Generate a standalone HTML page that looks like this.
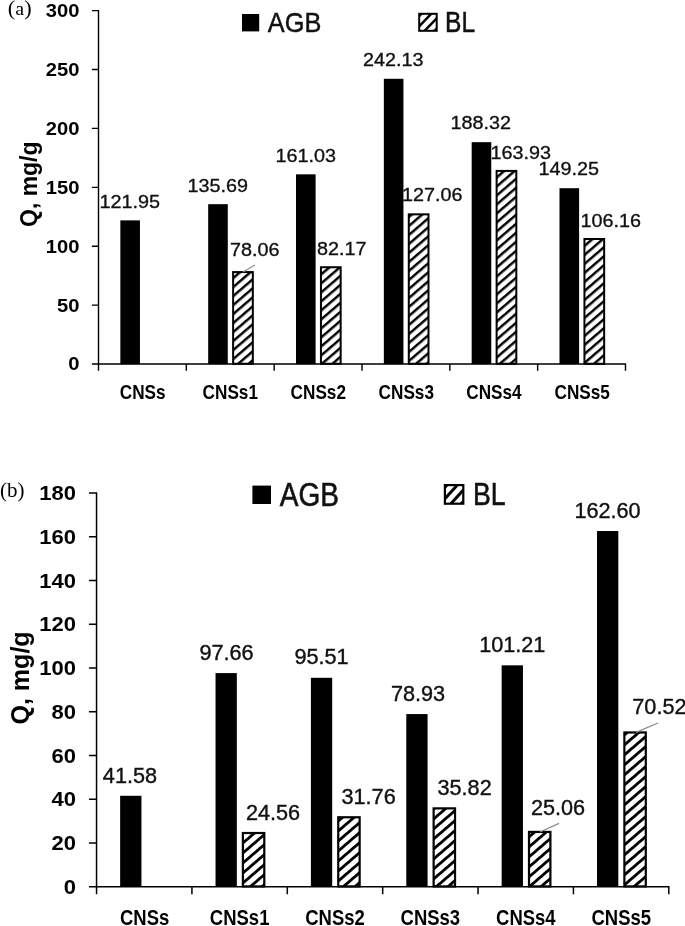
<!DOCTYPE html>
<html lang="en"><head><meta charset="utf-8"><title>Adsorption capacity charts</title>
<style>
html,body{margin:0;padding:0;background:#fff}
body{width:685px;height:926px;overflow:hidden}
svg{display:block}
text{font-size:50px;fill:#000}
text.b{font-family:'Liberation Sans', sans-serif;font-weight:bold}
text.n{font-family:'Liberation Sans', sans-serif;font-weight:normal;fill:#111;stroke:#111;stroke-width:0.9}
text.s{font-family:'Liberation Serif', serif;font-weight:normal}
</style></head><body>
<svg width="685" height="926" viewBox="0 0 685 926">
<defs>
<pattern id="ha" width="6.824" height="6.824" patternUnits="userSpaceOnUse" patternTransform="rotate(-40.70)"><rect width="6.824" height="6.824" fill="#fff"/><rect y="0" width="6.824" height="2.45" fill="#000"/></pattern>
<pattern id="hb" width="7.582" height="7.582" patternUnits="userSpaceOnUse" patternTransform="rotate(-40.70)"><rect width="7.582" height="7.582" fill="#fff"/><rect y="0" width="7.582" height="2.8" fill="#000"/></pattern>
</defs>
<rect width="685" height="926" fill="#fff"/>
<rect x="120.35" y="220.37" width="19.60" height="143.68" fill="#000"/>
<rect x="208.18" y="204.18" width="19.60" height="159.87" fill="#000"/>
<rect x="296.01" y="174.33" width="19.60" height="189.72" fill="#000"/>
<rect x="383.84" y="78.78" width="19.60" height="285.27" fill="#000"/>
<rect x="471.67" y="142.18" width="19.60" height="221.87" fill="#000"/>
<rect x="559.50" y="188.21" width="19.60" height="175.84" fill="#000"/>
<rect x="233.13" y="272.08" width="19.70" height="91.67" fill="url(#ha)" stroke="#000" stroke-width="2.0"/>
<rect x="320.96" y="267.24" width="19.70" height="96.51" fill="url(#ha)" stroke="#000" stroke-width="2.0"/>
<rect x="408.79" y="214.35" width="19.70" height="149.40" fill="url(#ha)" stroke="#000" stroke-width="2.0"/>
<rect x="496.62" y="170.91" width="19.70" height="192.84" fill="url(#ha)" stroke="#000" stroke-width="2.0"/>
<rect x="584.45" y="238.98" width="19.70" height="124.77" fill="url(#ha)" stroke="#000" stroke-width="2.0"/>
<path d="M98.50 9.90V370.65M91.90 364.05H626.18M186.33 364.05v6.60M274.16 364.05v6.60M361.99 364.05v6.60M449.82 364.05v6.60M537.65 364.05v6.60M625.48 364.05v6.60M91.90 364.05H98.50M91.90 305.14H98.50M91.90 246.23H98.50M91.90 187.33H98.50M91.90 128.42H98.50M91.90 69.51H98.50M91.90 10.60H98.50" fill="none" stroke="#000" stroke-width="1.4"/>
<text class="b" transform="matrix(0.4037 0 0 0.3634 68.20 370.47)">0</text>
<text class="b" transform="matrix(0.4037 0 0 0.3634 57.00 311.56)">50</text>
<text class="b" transform="matrix(0.4037 0 0 0.3634 45.70 252.65)">100</text>
<text class="b" transform="matrix(0.4037 0 0 0.3634 45.70 193.74)">150</text>
<text class="b" transform="matrix(0.4037 0 0 0.3634 45.70 134.83)">200</text>
<text class="b" transform="matrix(0.4037 0 0 0.3634 45.70 75.93)">250</text>
<text class="b" transform="matrix(0.4037 0 0 0.3634 45.70 17.02)">300</text>
<text class="b" transform="matrix(0.3436 0 0 0.3972 119.81 398.70)">CNSs</text>
<text class="b" transform="matrix(0.3436 0 0 0.3972 202.61 398.70)">CNSs1</text>
<text class="b" transform="matrix(0.3436 0 0 0.3972 290.61 398.70)">CNSs2</text>
<text class="b" transform="matrix(0.3436 0 0 0.3972 378.61 398.70)">CNSs3</text>
<text class="b" transform="matrix(0.3436 0 0 0.3972 466.31 398.70)">CNSs4</text>
<text class="b" transform="matrix(0.3436 0 0 0.3972 554.51 398.70)">CNSs5</text>
<text class="n" transform="matrix(0.3959 0 0 0.3718 99.52 208.41)">121.95</text>
<text class="n" transform="matrix(0.3959 0 0 0.3718 187.52 191.91)">135.69</text>
<text class="n" transform="matrix(0.3959 0 0 0.3718 275.52 161.81)">161.03</text>
<text class="n" transform="matrix(0.3959 0 0 0.3718 363.01 66.41)">242.13</text>
<text class="n" transform="matrix(0.3959 0 0 0.3718 450.52 129.41)">188.32</text>
<text class="n" transform="matrix(0.3959 0 0 0.3718 538.52 175.41)">149.25</text>
<text class="n" transform="matrix(0.3959 0 0 0.3718 230.01 256.41)">78.06</text>
<text class="n" transform="matrix(0.3959 0 0 0.3718 317.11 254.71)">82.17</text>
<text class="n" transform="matrix(0.3959 0 0 0.3718 402.02 200.71)">127.06</text>
<text class="n" transform="matrix(0.3959 0 0 0.3718 490.52 159.21)">163.93</text>
<text class="n" transform="matrix(0.3959 0 0 0.3718 580.52 226.71)">106.16</text>
<line x1="255" y1="265" x2="243" y2="272" stroke="#8c8c8c" stroke-width="1.2"/>
<rect x="242" y="14" width="17.20" height="17.40" fill="#000"/>
<clipPath id="cha"><rect x="419.20" y="13.80" width="17.50" height="17.00"/></clipPath>
<path d="M399.48 36.51L441.16 -6.65M404.57 41.42L446.25 -1.74M409.65 46.34L451.33 3.18M414.74 51.25L456.42 8.09" stroke="#000" stroke-width="2.5" fill="none" clip-path="url(#cha)"/>
<rect x="419.20" y="13.80" width="17.50" height="17.00" fill="none" stroke="#000" stroke-width="2.0"/>
<text class="n" transform="matrix(0.5061 0 0 0.5690 267.87 31.82)">AGB</text>
<text class="n" transform="matrix(0.4919 0 0 0.5752 445.03 31.60)">BL</text>
<text class="b" transform="matrix(0 -0.4592 0.4706 0 36.66 226.92)">Q, mg/g</text>
<text class="s" transform="matrix(0.4000 0 0 0.3604 7.80 14.57)"><tspan font-size="56">(</tspan>a<tspan font-size="56">)</tspan></text>
<rect x="120.15" y="795.78" width="21.30" height="90.97" fill="#000"/>
<rect x="215.53" y="673.09" width="21.30" height="213.66" fill="#000"/>
<rect x="310.90" y="677.80" width="21.30" height="208.95" fill="#000"/>
<rect x="406.28" y="714.07" width="21.30" height="172.68" fill="#000"/>
<rect x="501.65" y="665.33" width="21.30" height="221.42" fill="#000"/>
<rect x="597.02" y="531.02" width="21.30" height="355.73" fill="#000"/>
<rect x="242.88" y="833.02" width="21.40" height="53.38" fill="url(#hb)" stroke="#000" stroke-width="2.2"/>
<rect x="338.25" y="817.27" width="21.40" height="69.13" fill="url(#hb)" stroke="#000" stroke-width="2.2"/>
<rect x="433.63" y="808.38" width="21.40" height="78.02" fill="url(#hb)" stroke="#000" stroke-width="2.2"/>
<rect x="529.00" y="831.92" width="21.40" height="54.48" fill="url(#hb)" stroke="#000" stroke-width="2.2"/>
<rect x="624.38" y="732.47" width="21.40" height="153.93" fill="url(#hb)" stroke="#000" stroke-width="2.2"/>
<path d="M96.55 492.20V894.35M88.95 886.75H669.55M191.93 886.75v7.60M287.30 886.75v7.60M382.68 886.75v7.60M478.05 886.75v7.60M573.42 886.75v7.60M668.80 886.75v7.60M88.95 886.75H96.55M88.95 842.99H96.55M88.95 799.24H96.55M88.95 755.48H96.55M88.95 711.73H96.55M88.95 667.97H96.55M88.95 624.22H96.55M88.95 580.46H96.55M88.95 536.71H96.55M88.95 492.95H96.55" fill="none" stroke="#000" stroke-width="1.5"/>
<text class="b" transform="matrix(0.4396 0 0 0.4085 63.78 893.80)">0</text>
<text class="b" transform="matrix(0.4396 0 0 0.4085 51.58 850.04)">20</text>
<text class="b" transform="matrix(0.4396 0 0 0.4085 51.58 806.28)">40</text>
<text class="b" transform="matrix(0.4396 0 0 0.4085 51.58 762.53)">60</text>
<text class="b" transform="matrix(0.4396 0 0 0.4085 51.58 718.77)">80</text>
<text class="b" transform="matrix(0.4396 0 0 0.4085 39.27 675.02)">100</text>
<text class="b" transform="matrix(0.4396 0 0 0.4085 39.27 631.26)">120</text>
<text class="b" transform="matrix(0.4396 0 0 0.4085 39.27 587.51)">140</text>
<text class="b" transform="matrix(0.4396 0 0 0.4085 39.27 543.75)">160</text>
<text class="b" transform="matrix(0.4396 0 0 0.4085 39.27 500.00)">180</text>
<text class="b" transform="matrix(0.3696 0 0 0.4310 119.96 924.68)">CNSs</text>
<text class="b" transform="matrix(0.3696 0 0 0.4310 209.86 924.68)">CNSs1</text>
<text class="b" transform="matrix(0.3696 0 0 0.4310 305.26 924.68)">CNSs2</text>
<text class="b" transform="matrix(0.3696 0 0 0.4310 400.56 924.68)">CNSs3</text>
<text class="b" transform="matrix(0.3696 0 0 0.4310 496.06 924.68)">CNSs4</text>
<text class="b" transform="matrix(0.3696 0 0 0.4310 591.46 924.68)">CNSs5</text>
<text class="n" transform="matrix(0.4333 0 0 0.4338 102.86 782.68)">41.58</text>
<text class="n" transform="matrix(0.4333 0 0 0.4338 199.43 660.28)">97.66</text>
<text class="n" transform="matrix(0.4333 0 0 0.4338 294.43 664.08)">95.51</text>
<text class="n" transform="matrix(0.4333 0 0 0.4338 390.92 700.68)">78.93</text>
<text class="n" transform="matrix(0.4333 0 0 0.4338 479.18 652.28)">101.21</text>
<text class="n" transform="matrix(0.4333 0 0 0.4338 574.38 518.28)">162.60</text>
<text class="n" transform="matrix(0.4333 0 0 0.4338 245.92 819.98)">24.56</text>
<text class="n" transform="matrix(0.4333 0 0 0.4338 341.53 803.68)">31.76</text>
<text class="n" transform="matrix(0.4333 0 0 0.4338 437.53 795.28)">35.82</text>
<text class="n" transform="matrix(0.4333 0 0 0.4338 530.92 815.18)">25.06</text>
<text class="n" transform="matrix(0.4333 0 0 0.4338 632.32 714.18)">70.52</text>
<line x1="559" y1="823.4" x2="540" y2="832" stroke="#8c8c8c" stroke-width="1.2"/>
<line x1="658" y1="723" x2="636" y2="732.4" stroke="#8c8c8c" stroke-width="1.2"/>
<rect x="252.4" y="485.6" width="18.60" height="18.40" fill="#000"/>
<clipPath id="chb"><rect x="444.90" y="485.10" width="18.40" height="18.60"/></clipPath>
<path d="M425.44 508.97L465.59 464.38M431.16 514.12L471.31 469.53M436.89 519.27L477.04 474.68M442.61 524.42L482.76 479.83" stroke="#000" stroke-width="3.0" fill="none" clip-path="url(#chb)"/>
<rect x="444.90" y="485.10" width="18.40" height="18.60" fill="none" stroke="#000" stroke-width="2.2"/>
<text class="n" transform="matrix(0.5606 0 0 0.6592 279.86 505.57)">AGB</text>
<text class="n" transform="matrix(0.5333 0 0 0.6277 473.07 504.50)">BL</text>
<text class="b" transform="matrix(0 -0.5012 0.5134 0 28.61 724.60)">Q, mg/g</text>
<text class="s" transform="matrix(0.4205 0 0 0.4221 -0.05 496.57)">(b)</text>
</svg>
</body></html>
